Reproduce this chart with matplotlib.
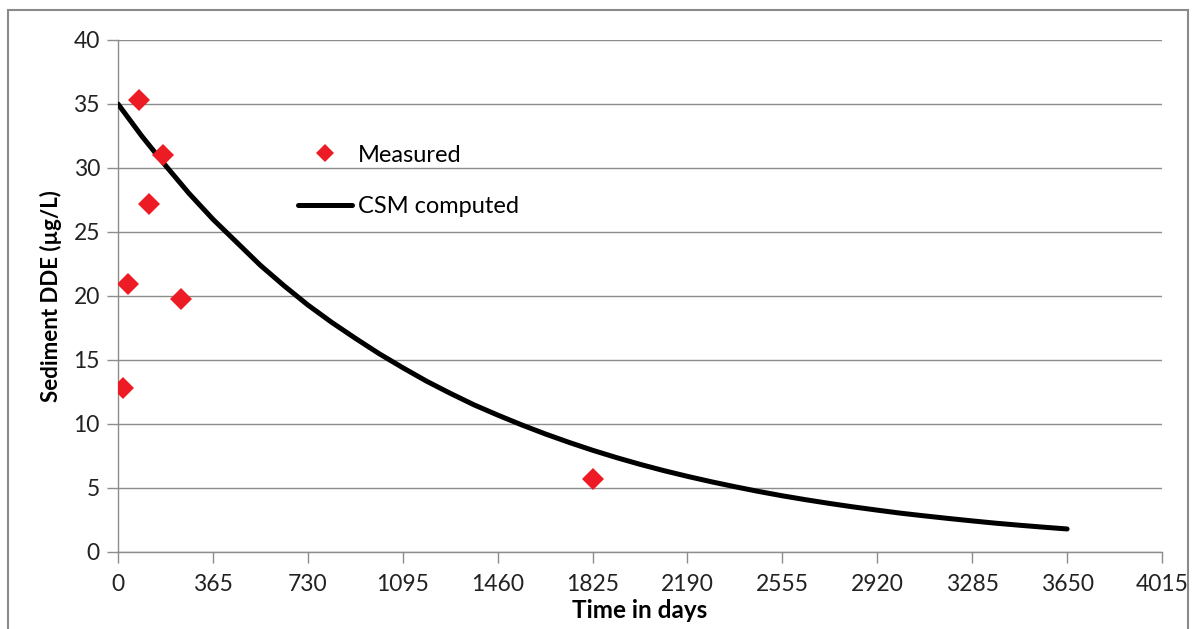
import matplotlib
matplotlib.use("Agg")
import matplotlib.pyplot as plt
from matplotlib.patches import Rectangle

plt.rcParams["font.family"] = ["Lato", "DejaVu Sans"]

# measured sediment DDE samples
measured_days = [19, 38, 81, 119, 173, 242, 1825]
measured_dde = [12.8, 20.9, 35.3, 27.2, 31.0, 19.8, 5.7]

# CSM model output, read every quarter year (91.25 d)
csm_days = [i * 91.25 for i in range(41)]
csm_dde = [35.0, 32.5, 30.2, 28.0, 26.0, 24.2, 22.4, 20.8, 19.3, 17.95,
           16.7, 15.5, 14.4, 13.35, 12.4, 11.5, 10.7, 9.94, 9.23, 8.57,
           7.95, 7.38, 6.85, 6.36, 5.91, 5.49, 5.10, 4.73, 4.39, 4.08,
           3.79, 3.52, 3.27, 3.03, 2.82, 2.62, 2.43, 2.25, 2.09, 1.94, 1.80]

x_ticks = [0, 365, 730, 1095, 1460, 1825, 2190, 2555, 2920, 3285, 3650, 4015]
y_ticks = [0, 5, 10, 15, 20, 25, 30, 35, 40]

GRID = "#8C8C8C"
RED = "#ED1C24"

fig = plt.figure(figsize=(11.95, 6.29), dpi=100)
ax = fig.add_axes([118 / 1195, 1 - 552 / 629, (1162 - 118) / 1195, (552 - 40) / 629])

# chart-area border
fig.patches.append(Rectangle((8 / 1195, -0.05), 1180 / 1195, 1.05 - 10 / 629,
                             transform=fig.transFigure, fill=False,
                             edgecolor="#8A8A8A", linewidth=1.5))

ax.plot(csm_days, csm_dde, color="black", linewidth=3.6,
        solid_capstyle="round", solid_joinstyle="round",
        label="CSM computed", zorder=3)
ax.plot(measured_days, measured_dde, linestyle="none", marker="D",
        markersize=11, color=RED, markeredgewidth=0, label="Measured", zorder=4)

ax.set_xlim(0, 4015)
ax.set_ylim(0, 40)
ax.set_xticks(x_ticks)
ax.set_yticks(y_ticks)
ax.set_xticklabels([str(v) for v in x_ticks], fontsize=16.5, color="#222222")
ax.set_yticklabels([str(v) for v in y_ticks], fontsize=16.5, color="#222222")
ax.tick_params(axis="both", direction="out", length=8, width=1, color=GRID)
ax.tick_params(axis="x", pad=8)
ax.tick_params(axis="y", pad=5)

ax.yaxis.grid(True, color=GRID, linewidth=1)
ax.set_axisbelow(True)
for side in ("top", "right"):
    ax.spines[side].set_visible(False)
for side in ("left", "bottom"):
    ax.spines[side].set_color(GRID)
    ax.spines[side].set_linewidth(1)

ax.set_xlabel("Time in days", fontsize=17.5, fontweight="bold", labelpad=3)
ax.set_ylabel("Sediment DDE (µg/L)", fontsize=16, fontweight="bold", labelpad=8)

handles, labels = ax.get_legend_handles_labels()
ax.legend(handles[::-1], labels[::-1], loc="upper left",
          bbox_to_anchor=(0.152, 0.837), frameon=False, fontsize=17,
          handlelength=2.3, handletextpad=0.25, labelspacing=1.28,
          markerscale=0.8)

fig.savefig("out.png", dpi=100)
